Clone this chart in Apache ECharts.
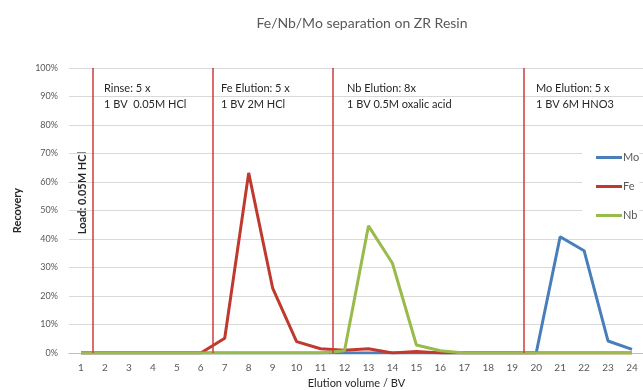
<!DOCTYPE html>
<html>
<head>
<meta charset="utf-8">
<script src="https://cdn.jsdelivr.net/npm/echarts@6/dist/echarts.min.js"></script>
<style>
  html, body { margin: 0; padding: 0; background: #fff; }
  #chart { width: 643px; height: 390px; }
</style>
</head>
<body>
<div id="chart"></div>
<script>
// Elution volume (BV) categories
const volumes = ['1','2','3','4','5','6','7','8','9','10','11','12','13','14','15','16','17','18','19','20','21','22','23','24'];

// Recovery in %
const mo = [0, 0, 0, 0, 0, 0, 0, 0, 0, 0, 0, 0, 0, 0, 0, 0, 0, 0, 0, 0, 40.8, 35.9, 4.2, 1.3];
const fe = [0, 0, 0, 0, 0, 0, 5.2, 63.2, 22.8, 4, 1.5, 1, 1.5, 0, 0.5, 0, 0, 0, 0, 0, 0, 0, 0, 0];
const nb = [0, 0, 0, 0, 0, 0, 0, 0, 0, 0, 0, 0.8, 44.6, 31.5, 2.8, 0.8, 0, 0, 0, 0, 0, 0, 0, 0];

// Step boundaries (BV)
const boundaries = [1.5, 6.5, 11.5, 19.5];

const font = 'Lato, "Open Sans", sans-serif';

const chart = echarts.init(document.getElementById('chart'));

function noteText(left, top, lines) {
    return {
        type: 'text',
        left: left,
        top: top,
        style: {
            text: lines.join('\n'),
            fill: '#262626',
            font: '11px ' + font,
            lineHeight: 16
        }
    };
}

const option = {
    animation: false,
    backgroundColor: '#fff',
    title: {
        text: 'Fe/Nb/Mo separation on ZR Resin',
        left: 357,
        textAlign: 'center',
        top: 11,
        textStyle: { fontFamily: font, fontSize: 14, fontWeight: 'normal', color: '#595959' }
    },
    legend: {
        data: ['Mo', 'Fe', 'Nb'],
        orient: 'vertical',
        left: 582,
        top: 148,
        itemGap: 18,
        itemWidth: 26,
        itemHeight: 3,
        icon: 'rect',
        backgroundColor: '#fff',
        padding: [4, 0, 4, 14],
        textStyle: { fontFamily: font, fontSize: 11, color: '#595959', padding: [0, 0, 0, -4] }
    },
    grid: { left: 69, top: 68, width: 575, height: 285, outerBoundsMode: 'none' },
    xAxis: [{
        type: 'category',
        data: volumes,
        boundaryGap: true,
        axisLine: { lineStyle: { color: '#bfbfbf' } },
        axisTick: { show: false },
        axisLabel: { fontFamily: font, fontSize: 10, color: '#595959', margin: 10 },
        name: 'Elution volume / BV',
        nameLocation: 'middle',
        nameGap: 24,
        nameTextStyle: { fontFamily: font, fontSize: 11, color: '#262626' }
    }, {
        type: 'value',
        min: 0.5,
        max: 24.5,
        show: false
    }],
    yAxis: {
        type: 'value',
        min: 0,
        max: 100,
        interval: 10,
        axisLine: { show: false },
        axisTick: { show: false },
        splitLine: { lineStyle: { color: '#d9d9d9' } },
        axisLabel: { formatter: '{value}%', fontFamily: font, fontSize: 9, color: '#595959', margin: 11 },
        name: 'Recovery',
        nameLocation: 'middle',
        nameRotate: 90,
        nameGap: 46,
        nameTextStyle: { fontFamily: font, fontSize: 11, color: '#262626', fontWeight: 'bold' }
    },
    series: [
        {
            name: 'Mo', type: 'line', data: mo, symbol: 'none',
            lineStyle: { width: 3, color: '#4a7ebb' }, itemStyle: { color: '#4a7ebb' }
        },
        {
            name: 'Fe', type: 'line', data: fe, symbol: 'none',
            lineStyle: { width: 3, color: '#c0392f' }, itemStyle: { color: '#c0392f' }
        },
        {
            name: 'Nb', type: 'line', data: nb, symbol: 'none',
            lineStyle: { width: 3, color: '#98bb4c' }, itemStyle: { color: '#98bb4c' }
        },
        {
            // vertical step separators
            type: 'line',
            xAxisIndex: 1,
            data: [],
            markLine: {
                silent: true,
                symbol: 'none',
                label: { show: false },
                lineStyle: { type: 'solid', color: '#d03a3a', width: 1.5 },
                data: boundaries.map(b => ({ xAxis: b }))
            }
        }
    ],
    graphic: [
        noteText(104, 80, ['Rinse: 5 x', '1 BV  0.05M HCl']),
        noteText(221, 80, ['Fe Elution: 5 x', '1 BV 2M HCl']),
        noteText(347, 80, ['Nb Elution: 8x', '1 BV 0.5M oxalic acid']),
        noteText(536, 80, ['Mo Elution: 5 x', '1 BV 6M HNO3']),
        {
            type: 'text',
            x: 82,
            y: 193,
            rotation: Math.PI / 2,
            style: {
                text: 'Load: 0.05M HCl',
                fill: '#262626',
                font: 'bold 11px ' + font,
                textAlign: 'center',
                textVerticalAlign: 'middle'
            }
        }
    ]
};

chart.setOption(option);
</script>
</body>
</html>
